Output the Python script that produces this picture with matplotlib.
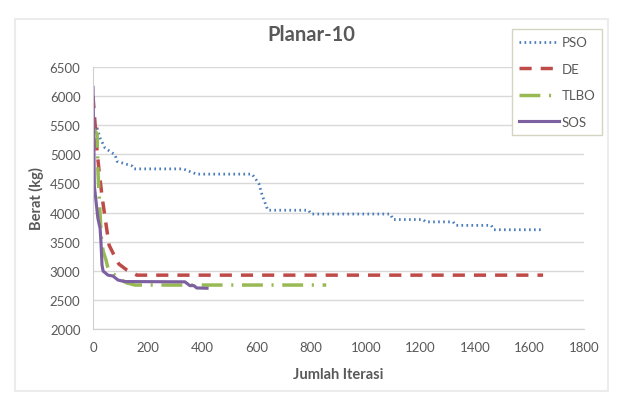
import matplotlib.pyplot as plt
from matplotlib.patches import Rectangle

plt.rcParams['font.family'] = ['Lato', 'DejaVu Sans']

# convergence curves (iteration, weight in kg)
pso_x = [0, 15, 26, 44, 81, 88, 143, 150, 330, 380, 583, 608, 620, 641, 790, 800, 1090, 1100, 1210, 1220, 1320, 1330, 1460, 1470, 1650]
pso_y = [5500, 5450, 5280, 5110, 4990, 4880, 4800, 4750, 4750, 4660, 4660, 4500, 4300, 4040, 4040, 3975, 3975, 3880, 3880, 3840, 3840, 3780, 3780, 3705, 3705]

de_x = [0, 8, 15, 22, 33, 48, 59, 77, 95, 125, 161, 1650]
de_y = [6000, 5500, 5050, 4730, 4280, 3790, 3440, 3270, 3115, 3010, 2925, 2925]

tlbo_x = [0, 15, 18, 30, 37, 48, 55, 92, 125, 154, 855]
tlbo_y = [5450, 5350, 4720, 3600, 3340, 3180, 3040, 2870, 2790, 2755, 2755]

sos_x = [0, 3, 5, 18, 26, 29, 33, 37, 55, 73, 92, 117, 337, 355, 370, 380, 418]
sos_y = [6150, 5200, 4450, 3900, 3730, 3510, 3100, 2995, 2925, 2910, 2840, 2815, 2810, 2745, 2745, 2705, 2700]

x_ticks = list(range(0, 1801, 200))
y_ticks = list(range(2000, 6501, 500))

fig = plt.figure(figsize=(6.23, 4.10), dpi=100)
fig.patches.append(Rectangle((15 / 623, 1 - 392 / 410), 593 / 623, 372 / 410,
                             transform=fig.transFigure, fill=False,
                             edgecolor='#ececec', lw=1.5))
ax = fig.add_axes([93 / 623, 1 - 330 / 410, 491 / 623, 262 / 410])

ax.plot(pso_x, pso_y, color='#4a7ebb', lw=2, ls=(0, (0.6, 1.2)), label='PSO', dash_capstyle='butt')
ax.plot(de_x, de_y, color='#be4b48', lw=2.5, ls=(0, (3.5, 2.6)), label='DE')
ax.plot(tlbo_x, tlbo_y, color='#98b954', lw=2.5, ls=(0, (6, 2.5, 0.6, 2.5)), label='TLBO')
ax.plot(sos_x, sos_y, color='#7d60a0', lw=2.25, label='SOS')

ax.set_xlim(0, 1800)
ax.set_ylim(2000, 6500)
ax.set_xticks(x_ticks)
ax.set_yticks(y_ticks)
ax.grid(axis='y', color='#d9d9d9', lw=1)
ax.set_axisbelow(True)
for s in ['top', 'right']:
    ax.spines[s].set_visible(False)
for s in ['left', 'bottom']:
    ax.spines[s].set_color('#d0d0d0')
ax.tick_params(length=0, labelsize=9.5, labelcolor='#595959', pad=9)

ax.set_xlabel('Jumlah Iterasi', fontsize=10.5, fontweight='bold', color='#595959', labelpad=10)
ax.set_ylabel('Berat (kg)', fontsize=10.5, fontweight='bold', color='#595959', labelpad=4)
fig.text(311 / 623, 1 - 35 / 410, 'Planar-10', ha='center', va='center',
         fontsize=14.5, fontweight='bold', color='#595959')

handles, labels = ax.get_legend_handles_labels()
leg = fig.legend(handles, labels, loc='upper left', bbox_to_anchor=(512 / 623, 1 - 30 / 410),
                 fontsize=9.5, frameon=True, fancybox=False, edgecolor='#d4d4c0',
                 framealpha=1, handlelength=3.0, handletextpad=0.2,
                 labelspacing=1.1, borderpad=0.55, borderaxespad=0)
for t in leg.get_texts():
    t.set_color('#595959')

fig.savefig('out.png', dpi=100)
